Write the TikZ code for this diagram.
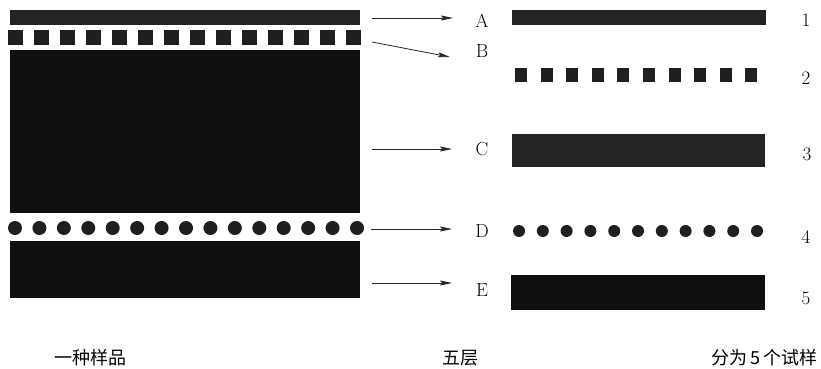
\documentclass[tikz,border=0pt]{standalone}
\usepackage{fontspec}
\newfontfamily\cjk{Noto Sans CJK SC}
\usetikzlibrary{arrows.meta}
\begin{document}
\begin{tikzpicture}[x=1pt,y=-1pt,
  band/.style={fill=black!86, draw=none, inner sep=0pt, outer sep=0pt, anchor=north west},
  darkband/.style={band, fill=black!94},
  sqr/.style={fill=black!88, draw=none, inner sep=0pt, outer sep=0pt, anchor=north west},
  dotc/.style={circle, fill=black!88, draw=none, inner sep=0pt, outer sep=0pt},
  lbl/.style={font=\fontsize{19}{19}\selectfont, inner sep=0pt},
  captxt/.style={font=\cjk\fontsize{18}{18}\selectfont, inner sep=0pt},
  arr/.style={-{Stealth[length=12pt,width=5pt,inset=2pt]}, line width=0.8pt, black!85}
]
\useasboundingbox (0,0) rectangle (821,369);
% ---- left sample ----
\node[band, minimum width=350pt, minimum height=15pt] (lA) at (10,10) {};
\foreach \i in {0,...,13} {
  \node[sqr, minimum width=15pt, minimum height=15pt] (lB\i) at (8+26*\i,30) {};
}
\node[darkband, minimum width=350pt, minimum height=163pt] (lC) at (10,50) {};
\foreach \i in {0,...,14} {
  \node[dotc, minimum size=14pt] (lD\i) at (15+24.43*\i,228) {};
}
\node[darkband, minimum width=350pt, minimum height=57pt] (lE) at (10,241) {};
% ---- labels ----
\node[lbl] (A) at (482,21) {A};
\node[lbl] (B) at (482,51) {B};
\node[lbl] (C) at (482,149) {C};
\node[lbl] (D) at (482,231) {D};
\node[lbl] (E) at (482,290) {E};
% ---- arrow coordinates ----
\coordinate (sA) at (372,18);  \coordinate (eA) at (453,18);
\coordinate (sB) at (372,42);  \coordinate (eB) at (450,57);
\coordinate (sC) at (372,149); \coordinate (eC) at (452,149);
\coordinate (sD) at (371,229); \coordinate (eD) at (452,229);
\coordinate (sE) at (372,283); \coordinate (eE) at (452,283);
\draw[arr] (sA) -- (eA);
\draw[arr] (sB) -- (eB);
\draw[arr] (sC) -- (eC);
\draw[arr] (sD) -- (eD);
\draw[arr] (sE) -- (eE);
% ---- right samples ----
\node[band, minimum width=254pt, minimum height=15pt] (r1) at (512,10) {};
\foreach \i in {0,...,9} {
  \node[sqr, minimum width=12pt, minimum height=14pt] (r2\i) at (515+25.6*\i,68) {};
}
\node[band, minimum width=253pt, minimum height=33pt] (r3) at (512,134) {};
\foreach \i in {0,...,10} {
  \node[dotc, minimum size=12pt] (r4\i) at (519+23.8*\i,231) {};
}
\node[darkband, minimum width=254pt, minimum height=35pt] (r5) at (511,275) {};
% ---- numbers ----
\node[lbl] (n1) at (806,20) {1};
\node[lbl] (n2) at (806,78) {2};
\node[lbl] (n3) at (807,154) {3};
\node[lbl] (n4) at (806,237) {4};
\node[lbl] (n5) at (806,298) {5};
% ---- captions ----
\node[captxt] (c1) at (90,358) {一种样品};
\node[captxt] (c2) at (460,358) {五层};
\node[captxt] (c3) at (764,358) {分为\hspace{3pt}5\hspace{3pt}个试样};
\end{tikzpicture}
\end{document}
